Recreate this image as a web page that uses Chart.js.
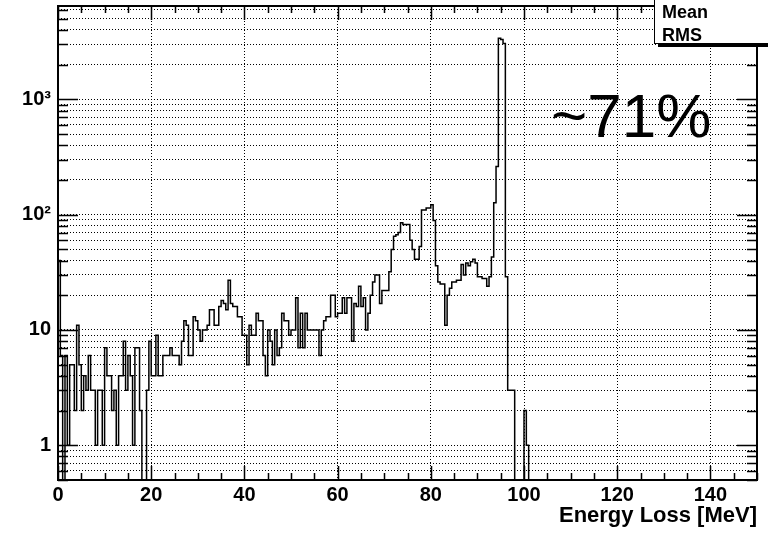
<!DOCTYPE html>
<html>
<head>
<meta charset="utf-8">
<title>Energy Loss</title>
<script src="https://cdn.jsdelivr.net/npm/chart.js@4.4.0/dist/chart.umd.min.js"></script>
<style>
  html, body { margin: 0; padding: 0; background: #fff; }
  #wrap { width: 768px; height: 533px; position: relative; }
</style>
</head>
<body>
<div id="wrap"><canvas id="eloss"></canvas></div>
<script>
// histogram with 0.5 MeV bins starting at 0 MeV, counts
const binWidth = 0.5;
const binStart = 0;
const counts = [
  40, 6, 0, 6, 1, 5, 5, 2, 11, 5,          // 0 - 5
  2, 4, 3, 6, 3, 3, 1, 3, 3, 1,            // 5 - 10
  7, 4, 4, 2, 3, 1, 4, 4, 8, 3,            // 10 - 15
  6, 4, 1, 7, 7, 2, 0, 0, 3, 8,            // 15 - 20
  4, 4, 9, 4, 4, 6, 6, 6, 7, 6,            // 20 - 25
  6, 6, 5, 8, 12, 11, 6, 6, 13, 12,        // 25 - 30
  10, 8, 10, 10, 11, 15, 15, 11, 11, 16,   // 30 - 35
  18, 17, 15, 27, 17, 16, 16, 13, 13, 9,   // 35 - 40
  9, 5, 11, 9, 9, 14, 12, 12, 6, 4,        // 40 - 45
  10, 8, 5, 10, 6, 7, 14, 12, 12, 9,       // 45 - 50
  10, 10, 19, 7, 14, 7, 14, 10, 10, 10,    // 50 - 55
  10, 10, 6, 10, 12, 13, 13, 20, 20, 13,   // 55 - 60
  14, 14, 19, 14, 19, 19, 8, 17, 16, 24,   // 60 - 65
  16, 19, 10, 14, 20, 26, 30, 30, 17, 22,  // 65 - 70
  22, 22, 32, 50, 65, 67, 70, 85, 82, 82,  // 70 - 75
  82, 60, 50, 41, 41, 53, 110, 110, 114, 114, // 75 - 80
  122, 89, 36, 26, 25, 25, 11, 20, 23, 26, // 80 - 85
  26, 27, 27, 37, 30, 38, 36, 39, 41, 38,  // 85 - 90
  29, 29, 28, 28, 24, 29, 43, 127, 262, 3390, // 90 - 95
  3300, 3050, 29, 3, 3, 3, 0, 0, 0, 0,     // 95 - 100
  2, 1, 0                                  // 100 - 101.5
];

const xMin = 0;
const xMax = 150;
const xTickValues = [0, 20, 40, 60, 80, 100, 120, 140];
const xMinorStep = 5;
const xTitle = 'Energy Loss [MeV]';

const yMin = 0.5;
const yMax = 6450;
const yMajorValues = [1, 10, 100, 1000];
const yMajorLabels = ['1', '10', '10\u00b2', '10\u00b3'];
const yMinorFactors = [2, 3, 4, 5, 6, 7, 8, 9];

const statsLabels = ['Mean', 'RMS'];
const noteText = '~71%';

const FONT = '"Liberation Sans", Arial, Helvetica, sans-serif';

// all y tick values (minor ones get a grid line too, like ROOT)
const yTickValues = [];
[0.1].concat(yMajorValues).forEach(m => {
    if (m >= yMin && m <= yMax) yTickValues.push(m);
    yMinorFactors.forEach(f => {
        const v = +(m * f).toPrecision(6);
        if (v >= yMin && v <= yMax) yTickValues.push(v);
    });
});
yTickValues.sort((a, b) => a - b);

// step points: each bin's left edge, plus the closing edge
// empty bins are drawn on the frame bottom (as ROOT does on a log axis)
const points = counts.map((c, i) => ({ x: binStart + i * binWidth, y: c > 0 ? c : yMin }));
points.push({ x: binStart + counts.length * binWidth, y: yMin });

// frame, inward ticks, stats box and the big label
const rootDecor = {
    id: 'rootDecor',
    afterDatasetsDraw(chart) {
        const { ctx, chartArea: a, scales } = chart;
        const xs = scales.x, ys = scales.y;
        ctx.save();
        ctx.strokeStyle = '#000';
        ctx.lineWidth = 1.5;
        ctx.beginPath();
        // y ticks, left and right
        yTickValues.forEach(v => {
            const y = Math.round(ys.getPixelForValue(v)) + 0.5;
            const len = yMajorValues.includes(v) ? 20 : 10;
            ctx.moveTo(a.left, y); ctx.lineTo(a.left + len, y);
            ctx.moveTo(a.right, y); ctx.lineTo(a.right - len, y);
        });
        // x ticks, bottom and top
        for (let v = xMin; v <= xMax; v += xMinorStep) {
            const x = Math.round(xs.getPixelForValue(v)) + 0.5;
            const len = xTickValues.includes(v) ? 14 : 7;
            ctx.moveTo(x, a.bottom); ctx.lineTo(x, a.bottom - len);
            ctx.moveTo(x, a.top); ctx.lineTo(x, a.top + len);
        }
        ctx.stroke();
        ctx.lineWidth = 2;
        ctx.strokeRect(a.left, a.top, a.right - a.left, a.bottom - a.top);
        ctx.restore();
    },
    afterDraw(chart) {
        const { ctx } = chart;
        ctx.save();
        // stats box (cut off by the canvas edge)
        ctx.fillStyle = '#000';
        ctx.fillRect(658, 0, 120, 47);
        ctx.fillStyle = '#fff';
        ctx.fillRect(654, -2, 120, 46);
        ctx.strokeStyle = '#000';
        ctx.lineWidth = 1;
        ctx.strokeRect(654.5, -2, 120, 45.5);
        ctx.fillStyle = '#000';
        ctx.font = 'bold 18px ' + FONT;
        ctx.textAlign = 'left';
        ctx.textBaseline = 'alphabetic';
        ctx.fillText(statsLabels[0], 662, 18);
        ctx.fillText(statsLabels[1], 662, 41);
        // big annotation
        ctx.font = '62px ' + FONT;
        ctx.fillText(noteText, 551, 137);
        ctx.restore();
    }
};

const canvas = document.getElementById('eloss');
const ctx = canvas.getContext('2d');

new Chart(ctx, {
    type: 'line',
    data: {
        datasets: [{
            data: points,
            stepped: 'before',
            borderColor: '#000',
            borderWidth: 1.5,
            pointRadius: 0,
            fill: false
        }]
    },
    options: {
        responsive: true,
        maintainAspectRatio: false,
        animation: false,
        layout: { padding: { top: 6, right: 11, left: 0, bottom: 0 } },
        plugins: {
            legend: { display: false },
            tooltip: { enabled: false }
        },
        scales: {
            x: {
                type: 'linear',
                min: xMin,
                max: xMax,
                afterBuildTicks: s => { s.ticks = xTickValues.map(v => ({ value: v })); },
                afterFit: s => { s.height = 53; s.paddingLeft = 0; s.paddingRight = 0; },
                grid: { color: '#000', lineWidth: 1, drawTicks: false },
                border: { display: false, dash: [1, 2] },
                ticks: {
                    color: '#000',
                    font: { family: FONT, size: 20, weight: 'bold' },
                    padding: 3,
                    maxRotation: 0,
                    autoSkip: false
                },
                title: {
                    display: true,
                    text: xTitle,
                    align: 'end',
                    color: '#000',
                    font: { family: FONT, size: 22, weight: 'bold' },
                    padding: { top: 0, bottom: 4 }
                }
            },
            y: {
                type: 'logarithmic',
                min: yMin,
                max: yMax,
                afterBuildTicks: s => { s.ticks = yTickValues.map(v => ({ value: v })); },
                afterFit: s => { s.width = 58; s.paddingTop = 0; s.paddingBottom = 0; },
                grid: { color: '#000', lineWidth: 1, drawTicks: false },
                border: { display: false, dash: [1, 2] },
                ticks: {
                    color: '#000',
                    font: { family: FONT, size: 20, weight: 'bold' },
                    padding: 7,
                    autoSkip: false,
                    callback: v => {
                        const k = yMajorValues.indexOf(v);
                        return k >= 0 ? yMajorLabels[k] : '';
                    }
                }
            }
        }
    },
    plugins: [rootDecor]
});
</script>
</body>
</html>
